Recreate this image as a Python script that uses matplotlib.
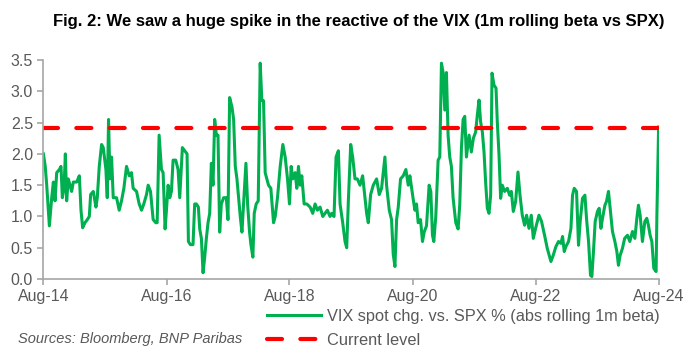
import numpy as np
import pandas as pd
import matplotlib
matplotlib.use("Agg")
import matplotlib.pyplot as plt

title = "Fig. 2: We saw a huge spike in the reactive of the VIX (1m rolling beta vs SPX)"
series_label = "VIX spot chg. vs. SPX % (abs rolling 1m beta)"
level_label = "Current level"
source_text = "Sources: Bloomberg, BNP Paribas"

start_date = "2014-08-01"
current_level = 2.42

# years elapsed since Aug-14
years_since_start = [
    0.000, 0.030, 0.054, 0.097, 0.135, 0.162, 0.189, 0.216, 0.259, 0.286,
    0.308, 0.335, 0.357, 0.378, 0.405, 0.432, 0.459, 0.486, 0.541, 0.584,
    0.611, 0.638, 0.676, 0.714, 0.746, 0.768, 0.811, 0.854, 0.876, 0.908,
    0.946, 0.973, 1.016, 1.038, 1.059, 1.081, 1.108, 1.135, 1.189, 1.232,
    1.270, 1.308, 1.351, 1.395, 1.432, 1.459, 1.514, 1.557, 1.595, 1.632,
    1.676, 1.703, 1.741, 1.784, 1.827, 1.849, 1.881, 1.919, 1.946, 1.978,
    2.000, 2.027, 2.054, 2.081, 2.108, 2.151, 2.189, 2.216, 2.259, 2.297,
    2.335, 2.357, 2.389, 2.432, 2.459, 2.486, 2.519, 2.541, 2.568, 2.595,
    2.622, 2.649, 2.676, 2.703, 2.730, 2.757, 2.784, 2.811, 2.838, 2.865,
    2.892, 2.930, 2.973, 3.000, 3.027, 3.065, 3.092, 3.119, 3.146, 3.200,
    3.227, 3.265, 3.292, 3.319, 3.351, 3.373, 3.405, 3.427, 3.459, 3.492,
    3.524, 3.551, 3.578, 3.605, 3.632, 3.659, 3.697, 3.741, 3.768, 3.805,
    3.849, 3.892, 3.930, 3.968, 4.000, 4.027, 4.054, 4.092, 4.119, 4.146,
    4.173, 4.200, 4.238, 4.281, 4.335, 4.378, 4.416, 4.454, 4.497, 4.541,
    4.578, 4.616, 4.659, 4.686, 4.724, 4.757, 4.795, 4.822, 4.865, 4.903,
    4.930, 4.957, 4.995, 5.027, 5.065, 5.103, 5.146, 5.189, 5.227, 5.254,
    5.281, 5.319, 5.362, 5.416, 5.459, 5.497, 5.524, 5.551, 5.578, 5.622,
    5.659, 5.686, 5.714, 5.741, 5.768, 5.805, 5.849, 5.892, 5.930, 5.957,
    6.000, 6.038, 6.065, 6.092, 6.130, 6.162, 6.189, 6.227, 6.270, 6.297,
    6.324, 6.346, 6.378, 6.416, 6.443, 6.470, 6.497, 6.524, 6.551, 6.578,
    6.605, 6.632, 6.659, 6.703, 6.741, 6.768, 6.795, 6.822, 6.849, 6.876,
    6.919, 6.956, 6.989, 7.026, 7.053, 7.081, 7.107, 7.135, 7.162, 7.188,
    7.216, 7.243, 7.270, 7.292, 7.324, 7.357, 7.378, 7.406, 7.432, 7.459,
    7.497, 7.541, 7.578, 7.606, 7.638, 7.676, 7.714, 7.747, 7.784, 7.822,
    7.854, 7.893, 7.930, 7.963, 8.000, 8.055, 8.097, 8.146, 8.190, 8.250,
    8.287, 8.331, 8.373, 8.412, 8.439, 8.466, 8.493, 8.536, 8.575, 8.601,
    8.628, 8.666, 8.698, 8.725, 8.763, 8.802, 8.828, 8.861, 8.893, 8.915,
    8.941, 8.969, 9.006, 9.034, 9.062, 9.088, 9.127, 9.153, 9.185, 9.218,
    9.250, 9.289, 9.321, 9.347, 9.375, 9.412, 9.448, 9.494, 9.532, 9.575,
    9.614, 9.646, 9.672, 9.700, 9.737, 9.776, 9.808, 9.834, 9.862, 9.890,
    9.922, 9.959, 9.972, 10.000,
]

beta = [
    2.00, 1.80, 1.50, 0.85, 1.30, 1.55, 1.25, 1.70, 1.75, 1.80,
    1.30, 1.45, 2.00, 1.25, 1.60, 1.50, 1.40, 1.55, 1.55, 1.65,
    1.10, 0.82, 0.90, 0.95, 1.00, 1.35, 1.40, 1.15, 1.30, 1.80,
    2.15, 2.10, 1.75, 1.30, 2.55, 1.60, 1.95, 1.30, 1.30, 1.10,
    1.25, 1.45, 1.80, 1.65, 1.70, 1.45, 1.40, 1.20, 1.10, 1.20,
    1.35, 1.50, 1.40, 0.95, 0.90, 0.90, 2.30, 1.75, 1.70, 0.80,
    1.10, 1.50, 1.30, 1.40, 1.90, 1.90, 1.75, 1.30, 2.10, 2.05,
    2.00, 0.60, 0.55, 0.55, 1.20, 1.20, 1.15, 0.80, 0.65, 0.10,
    0.35, 0.65, 0.90, 1.05, 1.85, 1.50, 2.55, 2.30, 2.30, 0.75,
    1.20, 1.30, 1.30, 0.95, 2.90, 2.75, 2.55, 1.80, 1.60, 1.00,
    0.75, 1.40, 1.85, 1.20, 0.75, 0.55, 0.35, 1.05, 1.20, 1.25,
    3.45, 2.85, 2.85, 1.70, 1.60, 1.50, 1.45, 0.90, 1.00, 1.30,
    1.80, 2.15, 1.95, 1.60, 1.20, 1.80, 1.60, 1.70, 1.45, 1.80,
    1.50, 1.65, 1.20, 1.20, 1.15, 1.05, 1.20, 1.10, 1.15, 1.00,
    1.05, 1.10, 1.00, 1.05, 1.00, 1.95, 2.05, 1.20, 0.90, 0.60,
    0.50, 1.25, 2.15, 1.95, 1.60, 1.60, 1.50, 1.65, 1.30, 1.05,
    0.90, 1.35, 1.50, 1.60, 1.35, 1.45, 1.70, 1.95, 1.50, 1.10,
    0.95, 0.40, 0.20, 0.95, 1.15, 1.60, 1.65, 1.75, 1.50, 1.65,
    1.35, 1.10, 1.20, 0.90, 0.95, 0.60, 0.75, 0.85, 1.50, 1.40,
    0.70, 0.60, 1.00, 1.90, 1.95, 3.45, 3.30, 2.70, 3.30, 2.30,
    1.95, 1.80, 1.30, 0.90, 0.80, 1.20, 2.10, 2.55, 2.60, 1.95,
    2.30, 2.03, 2.25, 2.35, 2.62, 2.86, 2.51, 2.35, 2.03, 1.55,
    1.13, 1.05, 1.34, 3.29, 3.10, 3.05, 2.51, 1.98, 1.29, 1.50,
    1.40, 1.45, 1.34, 1.40, 1.08, 1.24, 1.71, 1.34, 1.02, 0.86,
    1.02, 0.81, 1.02, 0.65, 0.81, 1.02, 0.92, 0.70, 0.49, 0.28,
    0.38, 0.52, 0.60, 0.57, 0.68, 0.44, 0.52, 0.60, 0.81, 1.34,
    1.45, 1.40, 0.54, 0.92, 1.29, 1.34, 0.97, 0.60, 0.06, 0.04,
    0.44, 0.92, 1.08, 1.13, 0.81, 0.97, 1.18, 1.24, 1.40, 1.08,
    0.76, 0.60, 0.44, 0.22, 0.38, 0.49, 0.65, 0.70, 0.60, 0.76,
    0.65, 0.97, 1.18, 1.02, 0.60, 0.92, 0.97, 0.86, 0.70, 0.60,
    0.17, 0.12, 1.02, 2.43,
]

tick_years = [2014, 2016, 2018, 2020, 2022, 2024]

dates = pd.Timestamp(start_date) + pd.to_timedelta(np.array(years_since_start) * 365.25, unit="D")
tick_dates = [pd.Timestamp(f"{y}-08-01") for y in tick_years]

plt.rcParams["font.family"] = ["Liberation Sans", "DejaVu Sans"]
grey = "#595959"

fig = plt.figure(figsize=(7.0, 3.51), dpi=100)
ax = fig.add_axes([0.062, 0.205, 0.879, 0.624])

ax.plot(dates, beta, color="#00B050", lw=2.2, label=series_label, solid_joinstyle="round")
ax.plot(dates, [current_level] * len(dates), color="#FF0000", lw=3.0,
        dashes=(3.6, 4.4), dash_capstyle="round", label=level_label)

ax.set_xlim(tick_dates[0], tick_dates[-1])
ax.set_ylim(0, 3.5)
ax.set_yticks(np.arange(0, 3.51, 0.5))
ax.set_yticklabels([f"{v:.1f}" for v in np.arange(0, 3.51, 0.5)])
ax.set_xticks(tick_dates)
ax.set_xticklabels([d.strftime("%b-%y") for d in tick_dates])

for s in ["top", "right"]:
    ax.spines[s].set_visible(False)
for s in ["left", "bottom"]:
    ax.spines[s].set_color("#A6A6A6")
    ax.spines[s].set_linewidth(1.2)
ax.tick_params(colors="#A6A6A6", labelcolor=grey, labelsize=11.5, length=4, width=1.2)

fig.text(0.512, 0.94, title, ha="center", va="center", fontsize=12, fontweight="bold",
         color="black")
fig.text(0.026, 0.035, source_text, ha="left", va="center", fontsize=10.5,
         style="italic", color=grey)

fig.legend(loc="upper left", bbox_to_anchor=(0.381, 0.121), frameon=False,
           fontsize=11.8, handlelength=3.3, handletextpad=0.35, labelspacing=0.57,
           borderpad=0, borderaxespad=0, labelcolor=grey)

fig.savefig("out.png", dpi=100)
